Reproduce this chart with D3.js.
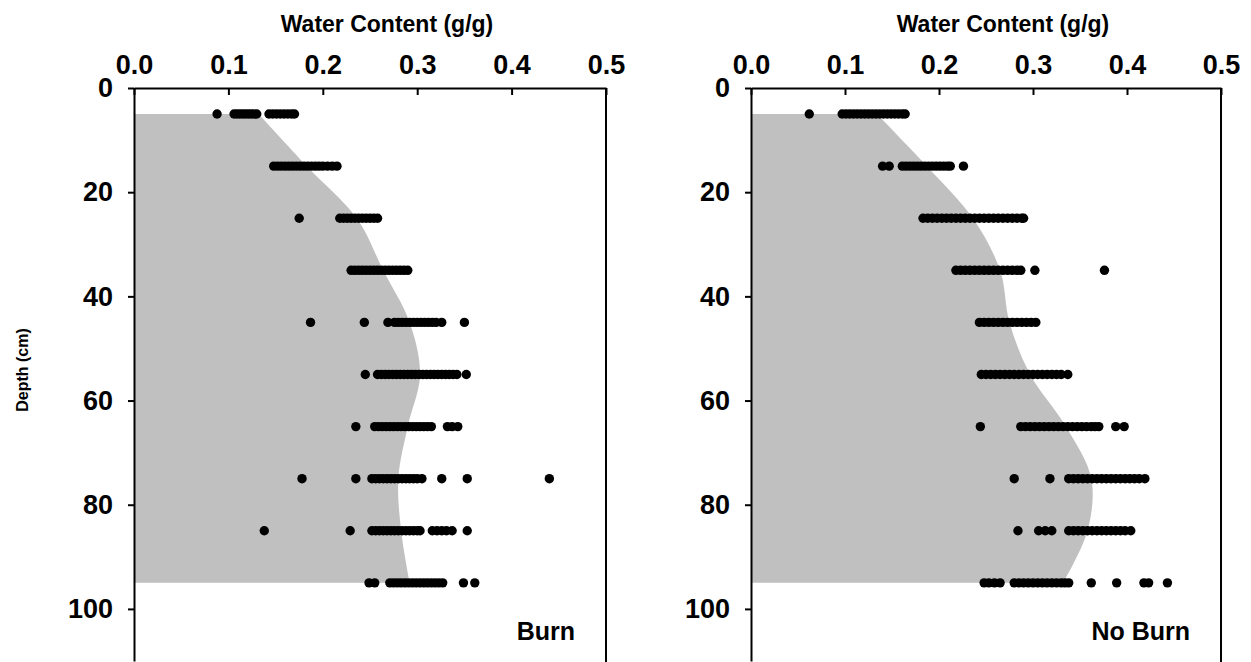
<!DOCTYPE html>
<html>
<head>
<meta charset="utf-8">
<script src="https://cdn.jsdelivr.net/npm/d3@7"></script>
<style>
  body { margin: 0; background: #fff; }
  text { font-family: "Liberation Sans", Arial, sans-serif; font-weight: bold; }
</style>
</head>
<body>
<script>
// depths where samples were taken (cm)
const depths = [5, 15, 25, 35, 45, 55, 65, 75, 85, 95];

// mean water content per depth (shaded profile)
const burnMean = [0.132, 0.183, 0.236, 0.264, 0.292, 0.303, 0.290, 0.280, 0.283, 0.292];
const noBurnMean = [0.134, 0.187, 0.236, 0.265, 0.275, 0.297, 0.335, 0.362, 0.358, 0.332];

// individual samples, one list per depth
const burnPoints = [
  [0.088, 0.106, 0.109, 0.112, 0.115, 0.118, 0.121, 0.124, 0.127, 0.130, 0.143, 0.147, 0.151, 0.155, 0.159, 0.163, 0.167, 0.170],
  [0.148, 0.152, 0.156, 0.160, 0.164, 0.168, 0.172, 0.176, 0.180, 0.184, 0.188, 0.192, 0.196, 0.200, 0.205, 0.210, 0.215],
  [0.175, 0.218, 0.222, 0.226, 0.230, 0.234, 0.238, 0.242, 0.246, 0.250, 0.254, 0.258],
  [0.230, 0.234, 0.238, 0.242, 0.246, 0.250, 0.254, 0.258, 0.262, 0.266, 0.270, 0.274, 0.278, 0.282, 0.286, 0.290],
  [0.187, 0.244, 0.269, 0.276, 0.280, 0.284, 0.288, 0.292, 0.296, 0.300, 0.304, 0.308, 0.312, 0.316, 0.320, 0.326, 0.350],
  [0.245, 0.258, 0.262, 0.266, 0.270, 0.274, 0.278, 0.282, 0.286, 0.290, 0.294, 0.298, 0.302, 0.306, 0.310, 0.314, 0.318, 0.322, 0.326, 0.330, 0.334, 0.338, 0.342, 0.352],
  [0.235, 0.255, 0.259, 0.263, 0.267, 0.271, 0.275, 0.279, 0.283, 0.287, 0.291, 0.295, 0.299, 0.303, 0.307, 0.311, 0.315, 0.332, 0.337, 0.343],
  [0.178, 0.235, 0.252, 0.256, 0.260, 0.264, 0.268, 0.272, 0.276, 0.280, 0.284, 0.288, 0.292, 0.296, 0.300, 0.305, 0.326, 0.353, 0.440],
  [0.138, 0.229, 0.252, 0.256, 0.260, 0.264, 0.268, 0.272, 0.276, 0.280, 0.284, 0.288, 0.292, 0.296, 0.300, 0.303, 0.316, 0.321, 0.326, 0.331, 0.337, 0.353],
  [0.249, 0.255, 0.271, 0.275, 0.279, 0.283, 0.287, 0.291, 0.295, 0.299, 0.303, 0.307, 0.311, 0.315, 0.319, 0.323, 0.327, 0.349, 0.361]
];

const noBurnPoints = [
  [0.062, 0.097, 0.101, 0.105, 0.109, 0.113, 0.117, 0.121, 0.125, 0.129, 0.133, 0.137, 0.141, 0.145, 0.149, 0.153, 0.157, 0.161, 0.164],
  [0.140, 0.147, 0.161, 0.165, 0.169, 0.173, 0.177, 0.181, 0.185, 0.189, 0.193, 0.197, 0.201, 0.205, 0.209, 0.212, 0.226],
  [0.183, 0.188, 0.193, 0.198, 0.203, 0.208, 0.213, 0.218, 0.223, 0.228, 0.233, 0.238, 0.243, 0.248, 0.253, 0.258, 0.263, 0.268, 0.273, 0.278, 0.283, 0.288, 0.290],
  [0.218, 0.223, 0.228, 0.233, 0.238, 0.243, 0.248, 0.253, 0.258, 0.263, 0.268, 0.273, 0.278, 0.283, 0.287, 0.302, 0.376],
  [0.243, 0.248, 0.253, 0.258, 0.263, 0.268, 0.273, 0.278, 0.283, 0.288, 0.293, 0.298, 0.303],
  [0.245, 0.250, 0.255, 0.260, 0.265, 0.270, 0.275, 0.280, 0.285, 0.290, 0.295, 0.300, 0.305, 0.310, 0.315, 0.320, 0.325, 0.330, 0.337],
  [0.244, 0.287, 0.292, 0.297, 0.302, 0.307, 0.312, 0.317, 0.322, 0.327, 0.332, 0.337, 0.342, 0.347, 0.352, 0.357, 0.362, 0.366, 0.370, 0.388, 0.397],
  [0.280, 0.318, 0.338, 0.343, 0.348, 0.353, 0.358, 0.363, 0.368, 0.373, 0.378, 0.383, 0.388, 0.393, 0.398, 0.403, 0.408, 0.413, 0.419],
  [0.284, 0.306, 0.313, 0.320, 0.338, 0.343, 0.348, 0.353, 0.358, 0.363, 0.368, 0.373, 0.378, 0.383, 0.388, 0.393, 0.398, 0.404],
  [0.248, 0.253, 0.259, 0.265, 0.280, 0.285, 0.290, 0.295, 0.300, 0.305, 0.310, 0.315, 0.320, 0.325, 0.330, 0.334, 0.338, 0.362, 0.389, 0.418, 0.423, 0.443]
];

const xTicks = [0, 0.1, 0.2, 0.3, 0.4, 0.5];
const yTicks = [0, 20, 40, 60, 80, 100];

const width = 1251, height = 662;
const plotTop = 88;

const svg = d3.select("body")
  .append("svg")
  .attr("width", width)
  .attr("height", height);

// shared depth scale (plot runs off the bottom of the picture)
const yScale = d3.scaleLinear()
  .domain([0, 110])
  .range([plotTop, 661]);

function drawPanel(left, right, means, points, label) {
  const xScale = d3.scaleLinear().domain([0, 0.5]).range([left, right]);
  const g = svg.append("g");

  // shaded mean profile
  const area = d3.area()
    .x0(xScale(0))
    .x1((d, i) => xScale(means[i]))
    .y(d => yScale(d))
    .curve(d3.curveCatmullRom);
  g.append("path")
    .datum(depths)
    .attr("d", area)
    .attr("fill", "#c0c0c0");

  // sample dots
  const flat = [];
  points.forEach((row, i) => row.forEach(v => flat.push({ depth: depths[i], wc: v })));
  g.selectAll("circle")
    .data(flat)
    .enter()
    .append("circle")
    .attr("cx", d => xScale(d.wc))
    .attr("cy", d => yScale(d.depth))
    .attr("r", 4.7)
    .attr("fill", "#000");

  // top axis, ticks pointing into the plot
  const xAxis = g.append("g")
    .attr("transform", `translate(0,${plotTop})`)
    .call(d3.axisTop(xScale).tickValues(xTicks).tickFormat(d3.format(".1f"))
      .tickSize(-7).tickSizeOuter(0).tickPadding(14));
  xAxis.selectAll("text").attr("font-size", 27).attr("fill", "#000");

  // left axis
  const yAxis = g.append("g")
    .attr("transform", `translate(${left},0)`)
    .call(d3.axisLeft(yScale).tickValues(yTicks).tickSize(6).tickSizeOuter(0).tickPadding(15));
  yAxis.selectAll("text").attr("font-size", 27).attr("fill", "#000");

  svg.selectAll(".domain, .tick line").attr("stroke", "#000").attr("stroke-width", 2);

  // right border
  g.append("line")
    .attr("x1", right).attr("x2", right)
    .attr("y1", plotTop).attr("y2", height)
    .attr("stroke", "#000").attr("stroke-width", 2);

  // axis title
  g.append("text")
    .attr("x", (left + right) / 2 + 17)
    .attr("y", 32)
    .attr("text-anchor", "middle")
    .attr("font-size", 23)
    .text("Water Content (g/g)");

  // panel label
  g.append("text")
    .attr("x", right - 31)
    .attr("y", 640)
    .attr("text-anchor", "end")
    .attr("font-size", 25)
    .text(label);
}

drawPanel(134, 606, burnMean, burnPoints, "Burn");
drawPanel(751, 1221, noBurnMean, noBurnPoints, "No Burn");

svg.append("text")
  .attr("transform", "translate(28,370) rotate(-90)")
  .attr("text-anchor", "middle")
  .attr("font-size", 16)
  .text("Depth (cm)");
</script>
</body>
</html>
